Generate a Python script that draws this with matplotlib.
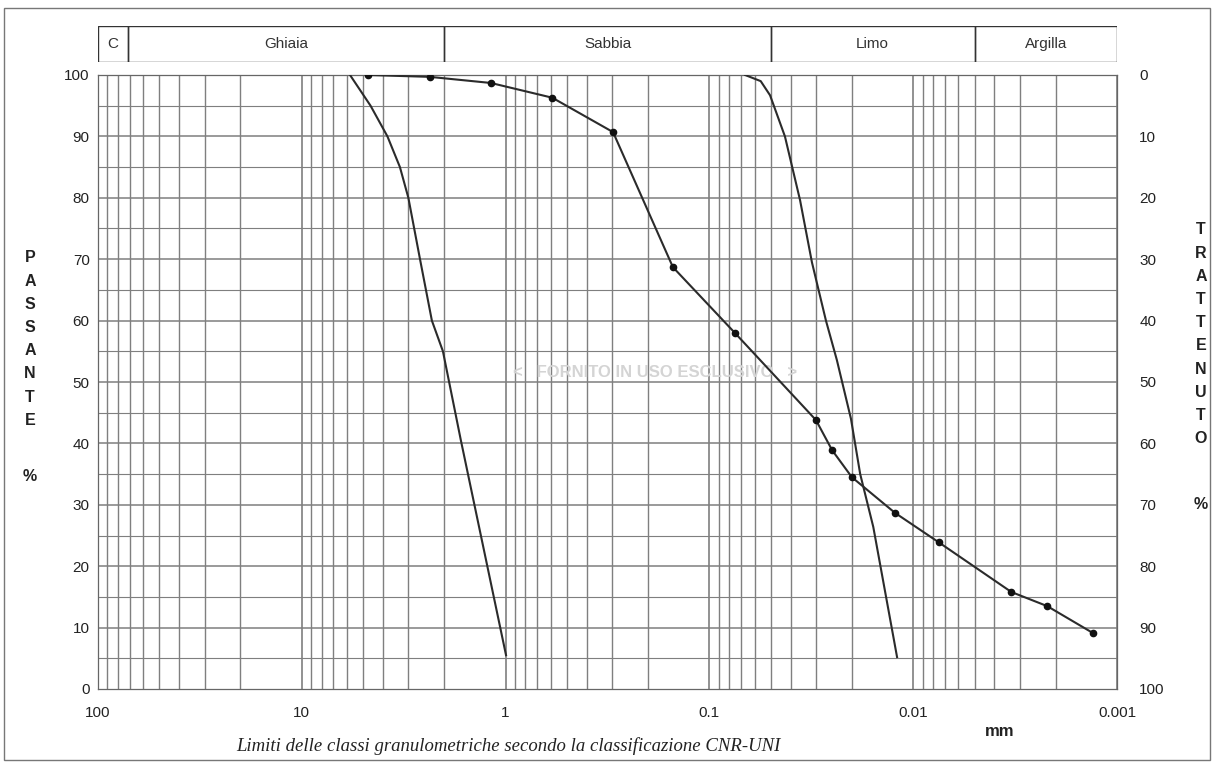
import numpy as np
import matplotlib
matplotlib.use("Agg")
import matplotlib.pyplot as plt
from matplotlib.patches import Rectangle

# grain size (mm) and percent passing
gravel_d = [5.8, 4.6, 3.8, 3.3, 3.0, 2.63, 2.3, 2.03, 1.66, 0.995]
gravel_p = [100, 95, 90, 85, 80, 70, 60, 55, 40.6, 5.5]

sand_d = [4.75, 2.36, 1.18, 0.59, 0.297, 0.151, 0.075, 0.030, 0.025, 0.020,
          0.0123, 0.0075, 0.0033, 0.0022, 0.00131]
sand_p = [100, 99.7, 98.7, 96.3, 90.7, 68.7, 58.0, 43.8, 38.9, 34.5,
          28.7, 23.9, 15.8, 13.5, 9.1]

silt_d = [0.0668, 0.056, 0.0504, 0.0426, 0.0359, 0.0314, 0.0268, 0.0237,
          0.0202, 0.0182, 0.0157, 0.0120]
silt_p = [100, 99, 96.7, 90, 79.6, 69.5, 60, 53.6, 44, 35, 26.4, 5.2]

# CNR-UNI class limits (mm)
class_edges = [100, 71, 2, 0.05, 0.005, 0.001]
class_names = ["C", "Ghiaia", "Sabbia", "Limo", "Argilla"]

x_ticks = [100, 10, 1, 0.1, 0.01, 0.001]
x_labels = ["100", "10", "1", "0.1", "0.01", "0.001"]
y_ticks = list(range(0, 101, 10))

W, H = 1217, 764
fig = plt.figure(figsize=(W / 100, H / 100), dpi=100)
plt.rcParams["font.family"] = ["Liberation Sans", "DejaVu Sans"]

ax = fig.add_axes([98 / W, 1 - 689 / H, (1117 - 98) / W, (689 - 75) / H])
ax.set_xscale("log")
ax.set_xlim(100, 0.001)
ax.set_ylim(0, 100)

# log paper grid
grid_c = "#7f7f7f"
for dec in [0.001, 0.01, 0.1, 1, 10]:
    for m in range(1, 10):
        ax.axvline(dec * m, color=grid_c, lw=1.0 if m > 1 else 1.2, zorder=1)
for v in range(5, 100, 5):
    ax.axhline(v, color=grid_c, lw=1.1 if v % 10 == 0 else 0.8, zorder=1)

ax.plot(gravel_d, gravel_p, color="#2b2b2b", lw=1.5, zorder=3)
ax.plot(sand_d, sand_p, color="#2b2b2b", lw=1.5, marker="o", ms=4.5,
        mfc="#111111", mec="#111111", zorder=4)
ax.plot(silt_d, silt_p, color="#2b2b2b", lw=1.5, zorder=3)

for s in ax.spines.values():
    s.set_color("#666666")
    s.set_linewidth(0.9)

ax.set_xticks(x_ticks)
ax.set_xticklabels(x_labels)
ax.xaxis.set_minor_locator(matplotlib.ticker.NullLocator())
ax.set_yticks(y_ticks)
ax.tick_params(axis="both", length=0, labelsize=11, colors="#222222")
ax.tick_params(axis="x", pad=12)
ax.tick_params(axis="y", pad=6)

ax2 = ax.twinx()
ax2.set_ylim(100, 0)
ax2.set_yticks(y_ticks)
ax2.tick_params(axis="y", length=0, labelsize=11, pad=16, colors="#222222")
for s in ax2.spines.values():
    s.set_visible(False)

# faint watermark in the middle
ax.text(0.185, 51.5, "<   FORNITO IN USO ESCLUSIVO   >", ha="center",
        va="center", fontsize=12, color="#d4d4d4", fontweight="bold",
        zorder=2)

# class band above the plot
band = fig.add_axes([98 / W, 1 - 62 / H, (1117 - 98) / W, 36 / H])
band.set_xscale("log")
band.set_xlim(100, 0.001)
band.set_ylim(0, 1)
band.axis("off")
for i, name in enumerate(class_names):
    x0, x1 = class_edges[i], class_edges[i + 1]
    band.add_patch(Rectangle((x0, 0), x1 - x0, 1, fill=False,
                             edgecolor="#333333", lw=1.0))
    band.text(np.sqrt(x0 * x1), 0.5, name, ha="center", va="center",
              fontsize=11, color="#333333")

# vertical axis titles
for i, ch in enumerate("PASSANTE"):
    fig.text(30 / W, 1 - (258 + i * 23.2) / H, ch, ha="center", va="center",
             fontsize=11.5, fontweight="bold", color="#222222")
fig.text(30 / W, 1 - 476 / H, "%", ha="center", va="center", fontsize=11.5,
         fontweight="bold", color="#222222")
for i, ch in enumerate("TRATTENUTO"):
    fig.text(1201 / W, 1 - (230 + i * 23.2) / H, ch, ha="center", va="center",
             fontsize=11.5, fontweight="bold", color="#222222")
fig.text(1201 / W, 1 - 505 / H, "%", ha="center", va="center", fontsize=11.5,
         fontweight="bold", color="#222222")

fig.text(1000 / W, 1 - 732 / H, "mm", ha="center", va="center", fontsize=12,
         fontweight="bold", color="#222222")
fig.text(508 / W, 1 - 746 / H,
         "Limiti delle classi granulometriche secondo la classificazione CNR-UNI",
         ha="center", va="center", fontsize=13.5, style="italic",
         family=["Liberation Serif", "DejaVu Serif"], color="#222222")

# outer frame
fig.patches.append(Rectangle((4 / W, 1 - 760 / H), 1206 / W, 752 / H,
                             transform=fig.transFigure, fill=False,
                             edgecolor="#777777", lw=1.0))

fig.savefig("out.png", dpi=100)
